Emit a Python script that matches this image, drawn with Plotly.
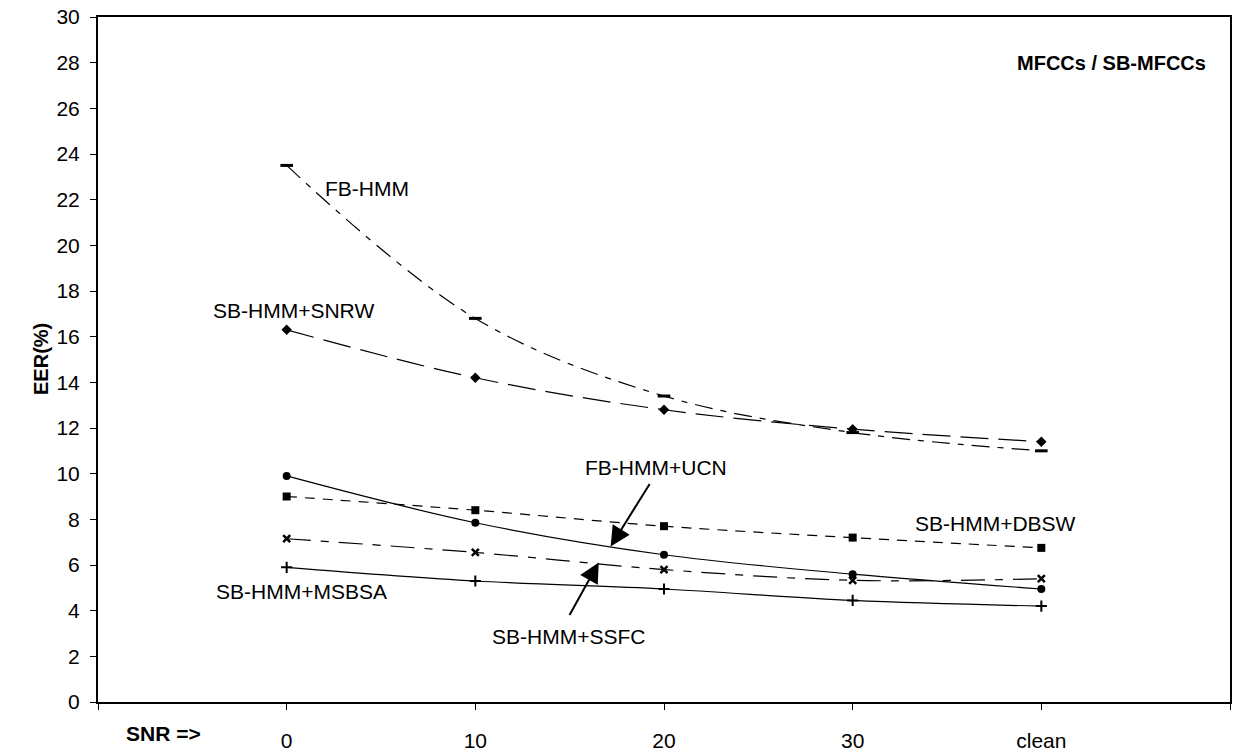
import plotly.graph_objects as go

categories = ["0", "10", "20", "30", "clean"]
cat_pos = [1, 2, 3, 4, 5]

fb_hmm = [23.5, 16.8, 13.4, 11.8, 11.0]
sb_snrw = [16.3, 14.2, 12.8, 11.95, 11.4]
sb_dbsw = [9.0, 8.4, 7.7, 7.2, 6.75]
fb_ucn = [9.9, 7.85, 6.45, 5.6, 4.95]
sb_ssfc = [7.15, 6.55, 5.8, 5.33, 5.4]
sb_msbsa = [5.9, 5.3, 4.95, 4.45, 4.2]

y_ticks = list(range(0, 31, 2))

FONT = "Arial, Liberation Sans, sans-serif"

fig = go.Figure()

def add(vals, dash, symbol, size, mlw=0):
    fig.add_trace(go.Scatter(
        x=cat_pos, y=vals, mode="lines+markers",
        line=dict(color="black", width=1.2, dash=dash, shape="spline", smoothing=1.0),
        marker=dict(symbol=symbol, size=size, color="black",
                    line=dict(color="black", width=mlw)),
        showlegend=False, cliponaxis=False))

add(fb_hmm, "18px,8px,6px,8px", "line-ew", 9, 3)
add(sb_snrw, "28px,10px", "diamond", 8)
add(sb_dbsw, "10px,8px", "square", 8)
add(fb_ucn, "solid", "circle", 8)
add(sb_ssfc, "24px,10px,8px,10px", "x-thin", 7, 2.5)
add(sb_msbsa, "solid", "cross-thin", 8, 2)

def txt(x, y, s, bold=False, xanchor="center", size=21):
    fig.add_annotation(x=x, y=y, xref="x", yref="y", text=f"<b>{s}</b>" if bold else s,
                       showarrow=False, xanchor=xanchor, yanchor="middle",
                       font=dict(family=FONT, size=size, color="black"))

txt(1.427, 22.51, "FB-HMM")
txt(1.036, 17.13, "SB-HMM+SNRW")
txt(1.078, 4.86, "SB-HMM+MSBSA")
txt(2.960, 10.28, "FB-HMM+UCN")
txt(4.758, 7.81, "SB-HMM+DBSW")
txt(2.495, 2.86, "SB-HMM+SSFC")
txt(5.884, 28.0, "MFCCs / SB-MFCCs", bold=True, xanchor="right", size=20)

fig.add_annotation(x=0.0582, y=-0.0462, xref="paper", yref="paper", text="<b>SNR =></b>",
                   showarrow=False, xanchor="center", yanchor="middle",
                   font=dict(family=FONT, size=21, color="black"))

# arrows
fig.add_annotation(x=2.717, y=6.81, xref="x", yref="y", ax=40, ay=-64, text="",
                   showarrow=True, arrowhead=2, arrowsize=2, arrowwidth=2, arrowcolor="black")
fig.add_annotation(x=2.654, y=6.11, xref="x", yref="y", ax=-30, ay=54, text="",
                   showarrow=True, arrowhead=2, arrowsize=2, arrowwidth=2, arrowcolor="black")

fig.add_annotation(x=-0.0617, y=0.501, xref="paper", yref="paper", text="<b>EER(%)</b>",
                   textangle=-90, showarrow=False, font=dict(family=FONT, size=20, color="black"))

fig.update_xaxes(range=[0, 6], tickmode="array", tickvals=[0, 1, 2, 3, 4, 5, 6],
                 ticktext=[""] + categories + [""],
                 ticks="outside", ticklen=6, tickcolor="black", tickwidth=1,
                 showline=True, linecolor="black", linewidth=2, mirror=True,
                 showgrid=False, zeroline=False, ticklabelstandoff=13,
                 tickfont=dict(family=FONT, size=21, color="black"))
fig.update_yaxes(range=[0, 30], tickmode="array", tickvals=y_ticks,
                 ticks="outside", ticklen=6, tickcolor="black", tickwidth=1,
                 showline=True, linecolor="black", linewidth=2, mirror=True,
                 showgrid=False, zeroline=False, ticklabelstandoff=6,
                 tickfont=dict(family=FONT, size=21, color="black"))

fig.update_layout(width=1236, height=756, plot_bgcolor="white", paper_bgcolor="white",
                  margin=dict(l=98, r=4, t=17, b=47), font=dict(family=FONT, color="black"))

fig.write_html("out.html", config={"displayModeBar": False},
               post_script="document.body.style.margin='0';document.body.style.overflow='hidden';")
